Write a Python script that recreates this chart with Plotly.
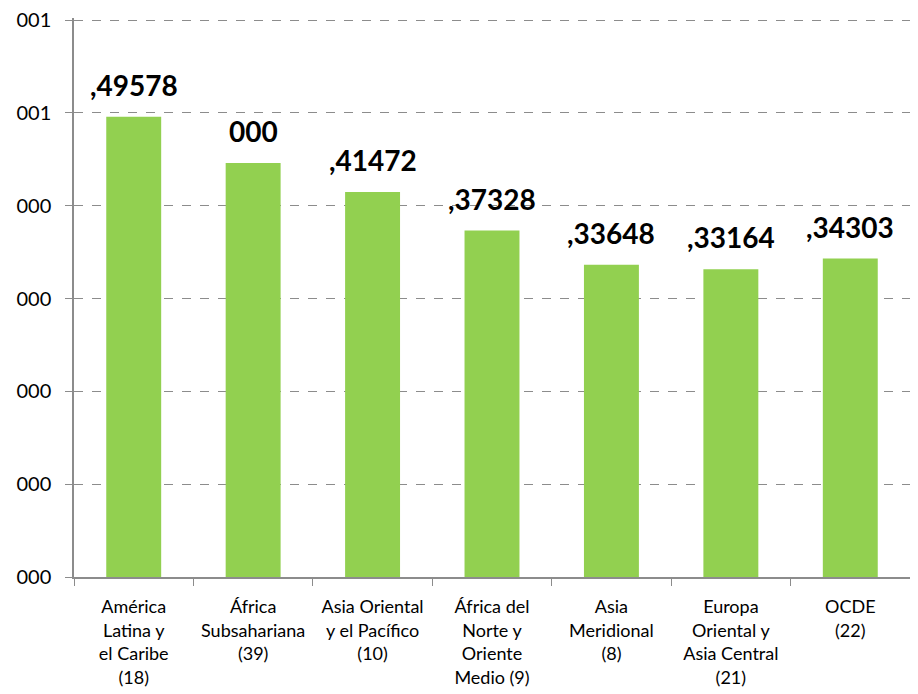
import plotly.graph_objects as go

# Regions (number of countries) and their values
regiones = [
    "América<br>Latina y<br>el Caribe<br>(18)",
    "África<br>Subsahariana<br>(39)",
    "Asia Oriental<br>y el Pacífico<br>(10)",
    "África del<br>Norte y<br>Oriente<br>Medio (9)",
    "Asia<br>Meridional<br>(8)",
    "Europa<br>Oriental y<br>Asia Central<br>(21)",
    "OCDE<br>(22)",
]
valores = [0.49578, 0.446, 0.41472, 0.37328, 0.33648, 0.33164, 0.34303]
etiquetas = [",49578", "000", ",41472", ",37328", ",33648", ",33164", ",34303"]

y_ticks = [0, 0.1, 0.2, 0.3, 0.4, 0.5, 0.6]
y_ticktext = ["000", "000", "000", "000", "000", "001", "001"]

font_family = "Lato, Noto Sans, sans-serif"

fig = go.Figure()
fig.add_trace(go.Bar(
    x=regiones, y=valores,
    marker=dict(color="#92D050", line=dict(width=0)),
    width=0.46,
))

for r, v, t in zip(regiones, valores, etiquetas):
    fig.add_annotation(x=r, y=v, text=f"<b>{t}</b>", showarrow=False,
                       yanchor="bottom", yshift=13,
                       font=dict(size=28, color="black", family=font_family))

# page body adds an 8px offset, so margins compensate for it
fig.update_layout(
    width=918, height=694,
    margin=dict(l=66, r=16, t=10, b=125),
    plot_bgcolor="white", paper_bgcolor="white",
    showlegend=False,
    font=dict(family=font_family, size=18, color="black"),
)
fig.update_yaxes(
    range=[0, 0.6022], tickvals=y_ticks, ticktext=y_ticktext,
    showgrid=True, gridcolor="#8c8c8c", griddash="dash", gridwidth=1,
    showline=True, linecolor="#8c8c8c", linewidth=1.5,
    ticks="outside", ticklen=7, tickcolor="#8c8c8c",
    tickfont=dict(size=20), zeroline=False, automargin=False,
    ticklabelstandoff=10, ticklabeloverflow="allow",
)
fig.update_xaxes(
    showline=True, linecolor="#8c8c8c", linewidth=1.5,
    ticks="outside", ticklen=7, tickcolor="#8c8c8c", tickson="boundaries",
    tickfont=dict(size=18), tickangle=0, automargin=False,
    ticklabelstandoff=13,
)

fig.write_html("out.html")
